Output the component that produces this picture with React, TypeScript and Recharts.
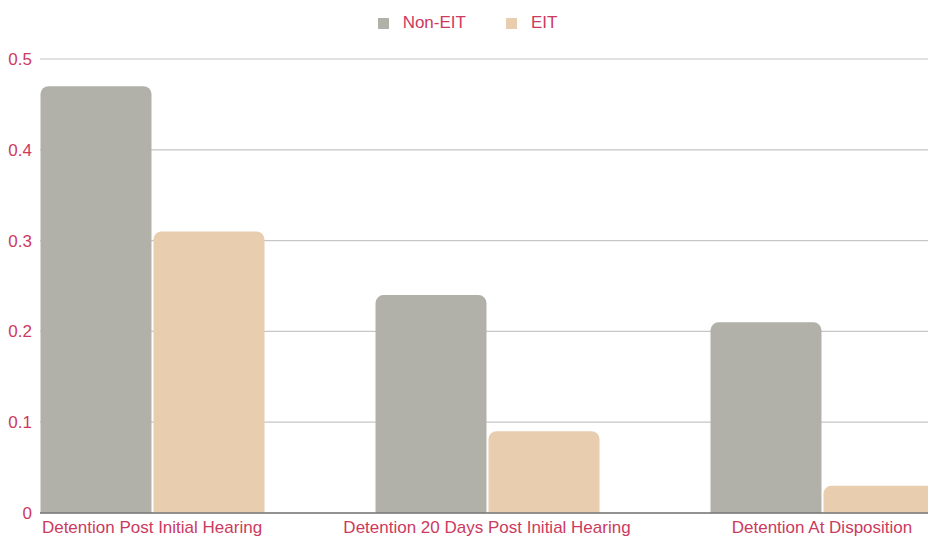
import React from "react";
import {
  BarChart,
  Bar,
  XAxis,
  YAxis,
  CartesianGrid,
  Legend,
} from "recharts";

const categories = [
  "Detention Post Initial Hearing",
  "Detention 20 Days Post Initial Hearing",
  "Detention At Disposition",
];
const nonEit = [0.47, 0.24, 0.21];
const eit = [0.31, 0.09, 0.03];
const yTicks = [0, 0.1, 0.2, 0.3, 0.4, 0.5];

const TEXT = "#cc3a5e";
const FONT = "'Liberation Sans', Arial, sans-serif";

const data = categories.map((name, i) => ({
  name,
  nonEit: nonEit[i],
  eit: eit[i],
}));

const series = [
  { key: "nonEit", label: "Non-EIT", color: "#b1b1a9" },
  { key: "eit", label: "EIT", color: "#e8cdae" },
];

function TopLegend() {
  return (
    <div
      style={{
        display: "flex",
        justifyContent: "center",
        gap: 40,
        paddingLeft: 7,
      }}
    >
      {series.map((s) => (
        <div key={s.key} style={{ display: "flex", alignItems: "center" }}>
          <span
            style={{
              display: "inline-block",
              width: 11,
              height: 11,
              background: s.color,
              marginRight: 14,
            }}
          />
          <span style={{ color: TEXT, fontSize: 17, fontFamily: FONT }}>
            {s.label}
          </span>
        </div>
      ))}
    </div>
  );
}

export default function App() {
  return (
    <div
      style={{
        position: "absolute",
        left: 0,
        top: 0,
        width: 928,
        height: 537,
        overflow: "hidden",
        background: "#fff",
      }}
    >
      <BarChart
        width={928}
        height={537}
        data={data}
        margin={{ top: 39, right: 0, left: 0, bottom: 0 }}
        barGap={2}
        barSize={111}
        style={{ fontFamily: FONT }}
      >
        <CartesianGrid vertical={false} stroke="#c6c6c6" strokeWidth={1.2} />
        <XAxis
          dataKey="name"
          axisLine={{ stroke: "#777", strokeWidth: 1.5 }}
          tickLine={false}
          tick={{ fill: TEXT, fontSize: 17 }}
          interval={0}
          height={24}
          padding={{ left: -55.5, right: -61.5 }}
        />
        <YAxis
          width={40}
          domain={[0, 0.5]}
          ticks={yTicks}
          axisLine={false}
          tickLine={false}
          tick={{ fill: TEXT, fontSize: 17 }}
        />
        <Legend
          verticalAlign="top"
          content={() => <TopLegend />}
          wrapperStyle={{ position: "absolute", top: 13, left: 0, width: 928 }}
        />
        {series.map((s) => (
          <Bar
            key={s.key}
            dataKey={s.key}
            name={s.label}
            fill={s.color}
            radius={[8, 8, 0, 0]}
            isAnimationActive={false}
          />
        ))}
      </BarChart>
    </div>
  );
}
